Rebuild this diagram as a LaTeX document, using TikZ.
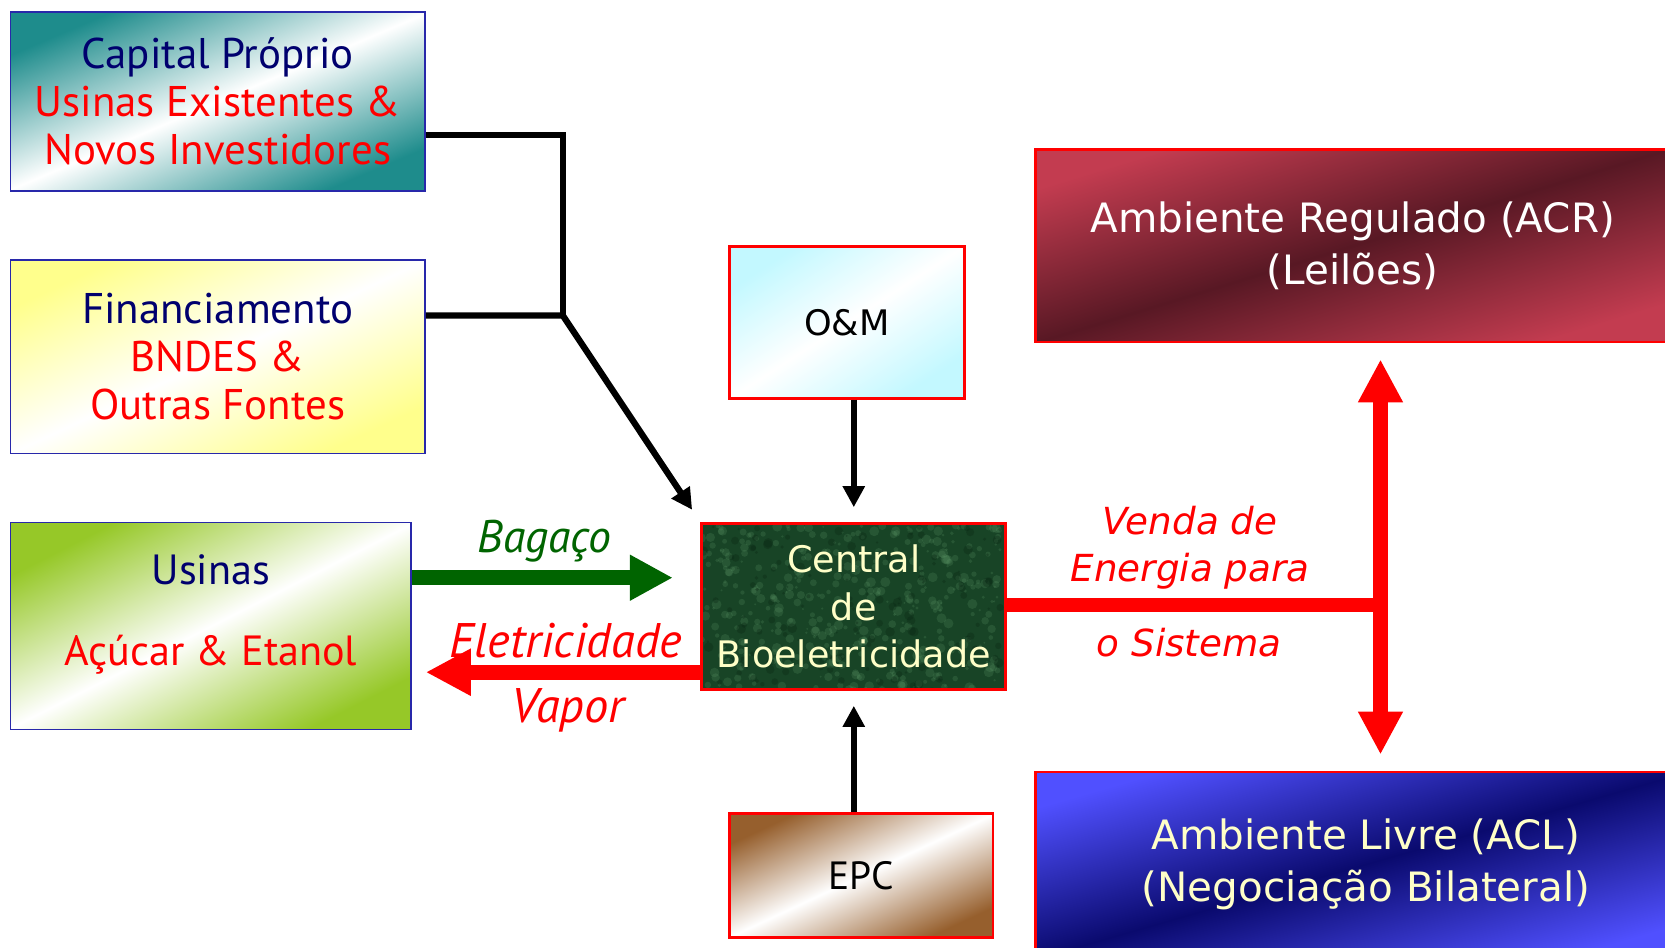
\documentclass[tikz,border=0pt]{standalone}
\usepackage{fontspec}
\setmainfont{PT Sans}
\newfontfamily\verdana{DejaVu Sans}
\usetikzlibrary{arrows.meta,backgrounds}

\definecolor{navytext}{RGB}{0,0,110}
\definecolor{boxblue}{RGB}{40,40,170}
\definecolor{tealbox}{RGB}{30,140,140}
\definecolor{yellowbox}{RGB}{255,255,140}
\definecolor{greenbox}{RGB}{150,200,40}
\definecolor{cyanbox}{RGB}{195,248,255}
\definecolor{brownbox}{RGB}{150,95,45}
\definecolor{acrlight}{RGB}{195,60,80}
\definecolor{acrdark}{RGB}{88,24,36}
\definecolor{acllight}{RGB}{80,80,255}
\definecolor{acldark}{RGB}{10,10,110}
\definecolor{marble}{RGB}{24,68,38}
\definecolor{marblespot}{RGB}{100,160,110}
\definecolor{marbledark}{RGB}{8,36,18}
\definecolor{paleyellow}{RGB}{255,255,200}
\definecolor{bagacogreen}{RGB}{0,100,0}

\tikzset{
  diagfill/.style n args={3}{top color=#1, bottom color=#1, middle color=#2, shading angle=#3},
  sourcebox/.style={draw=boxblue, line width=0.5pt, align=center, inner sep=0pt,
    font=\fontsize{12.2}{13.6}\selectfont},
  servicebox/.style={draw=red, line width=0.8pt, align=center, inner sep=0pt},
  marketbox/.style={draw=red, line width=0.8pt, align=center, inner sep=0pt,
    font=\verdana\fontsize{11.5}{14.8}\selectfont},
  link/.style={line width=1.8pt},
  feed/.style={link, -{Triangle[length=0.21cm,width=0.21cm]}, shorten >=0.15cm},
  bagaco/.style={draw=bagacogreen, line width=0.15cm, -{Triangle[length=0.43cm,width=0.43cm]}},
  eletricidade/.style={draw=red, line width=0.15cm, -{Triangle[length=0.45cm,width=0.44cm]}},
  sale/.style={draw=red, line width=0.14cm},
  market/.style={draw=red, line width=0.15cm,
    {Triangle[length=0.43cm,width=0.42cm]}-{Triangle[length=0.43cm,width=0.42cm]}},
  flowlabel/.style={font=\itshape\fontsize{13}{14}\selectfont, inner sep=0pt},
  salelabel/.style={font=\verdana\itshape\fontsize{10.6}{13.3}\selectfont, text=red,
    align=center, inner sep=0pt}
}

\begin{document}
\begin{tikzpicture}[x=0.01cm,y=-0.01cm]
  \useasboundingbox (0,0) rectangle (1665,947);
  \clip (0,0) rectangle (1665,947);

  % sources of money
  \node[sourcebox, diagfill={tealbox}{white}{23}, minimum width=4.142cm, minimum height=1.794cm]
    (capital) at (217.7,101.4)
    {\textcolor{navytext}{Capital Próprio}\\\textcolor{red}{Usinas Existentes \&}\\\textcolor{red}{Novos Investidores}};
  \node[sourcebox, diagfill={yellowbox}{white}{25}, minimum width=4.142cm, minimum height=1.932cm]
    (financ) at (217.7,356.8)
    {\textcolor{navytext}{Financiamento}\\\textcolor{red}{BNDES \&}\\\textcolor{red}{Outras Fontes}};

  % the mill
  \node[sourcebox, diagfill={greenbox}{white}{27}, minimum width=4.004cm, minimum height=2.07cm]
    (usinas) at (210.8,626) {};
  \node[font=\fontsize{12}{13.6}\selectfont, align=center, inner sep=0pt]
    (usinastxt) at ([yshift=0.115cm]usinas.center)
    {\textcolor{navytext}{Usinas}\\[9.5pt]\textcolor{red}{Açúcar \& Etanol}};

  % services
  \node[servicebox, diagfill={cyanbox}{white}{33}, minimum width=2.347cm, minimum height=1.518cm,
    font=\verdana\fontsize{10}{12}\selectfont] (om) at (846.9,322.3) {O\&M};
  \node[servicebox, diagfill={brownbox}{white}{25}, minimum width=2.634cm, minimum height=1.243cm,
    font=\fontsize{11.2}{12}\selectfont] (epc) at (861.2,875.6) {EPC};

  % the plant
  \node[servicebox, minimum width=3.037cm, minimum height=1.656cm, text=paleyellow,
    font=\verdana\fontsize{10.4}{13.6}\selectfont] (central) at (853.8,606.5)
    {Central\\de\\Bioeletricidade};
  \begin{scope}[on background layer]
    \fill[marble] (central.south west) rectangle (central.north east);
    \clip (central.south west) rectangle (central.north east);
    \pgfmathsetseed{42}
    \foreach \k in {1,...,420}
      \fill[marblespot, opacity=0.2] ([shift={(303*rnd,-165*rnd)}]central.south west)
        circle[radius={1+4*rnd}];
    \foreach \k in {1,...,160}
      \fill[marbledark, opacity=0.3] ([shift={(303*rnd,-165*rnd)}]central.south west)
        circle[radius={1+4*rnd}];
  \end{scope}

  % markets
  \node[marketbox, diagfill={acrlight}{acrdark}{17}, minimum width=6.346cm, minimum height=1.922cm,
    text=white] (acr) at (1352.7,245.8) {Ambiente Regulado (ACR)\\(Leilões)};
  \node[marketbox, diagfill={acllight}{acldark}{16}, minimum width=6.61cm, minimum height=1.84cm,
    text=paleyellow] (acl) at (1366,864) {Ambiente Livre (ACL)\\(Negociação Bilateral)};

  % money and services into the plant
  \coordinate (capjoin) at (562.8,134.9);
  \coordinate (finjoin) at (562.8,315.4);
  \draw[link] (capital.east |- capjoin) -- (capjoin) -- (finjoin);
  \draw[feed] (financ.east |- finjoin) -- (finjoin) -- (central.north west);
  \draw[feed] (central.north |- om.south) -- (central.north);
  \draw[feed] (central.south |- epc.north) -- (central.south);

  % exchange with the mill
  \coordinate (bagy) at (0,577.7);
  \coordinate (elety) at (0,672.2);
  \draw[bagaco, shorten >=0.276cm] (usinas.east |- bagy) -- (central.west |- bagy);
  \draw[eletricidade, shorten >=0.138cm] (central.west |- elety) -- (usinas.east |- elety);
  \node[flowlabel, text=bagacogreen] (bagacolbl) at (544.8,541.6) {Bagaço};
  \node[flowlabel, font=\itshape\fontsize{13.8}{14}\selectfont, text=red] (eletlbl) at (566,640.3) {Eletricidade};
  \node[flowlabel, font=\itshape\fontsize{13.8}{14}\selectfont, text=red] (vaporlbl) at (568,710.4) {Vapor};

  % sale of energy
  \coordinate (split) at (1380.5,605.3);
  \draw[sale] (central.east |- split) -- (split);
  \draw[market, shorten <=0.16cm, shorten >=0.16cm] (acr.south -| split) -- (acl.north -| split);
  \node[salelabel] (vendalbl) at (1190,548) {Venda de\\Energia para};
  \node[salelabel] (sistemalbl) at (1189.3,642.4) {o Sistema};
\end{tikzpicture}
\end{document}
